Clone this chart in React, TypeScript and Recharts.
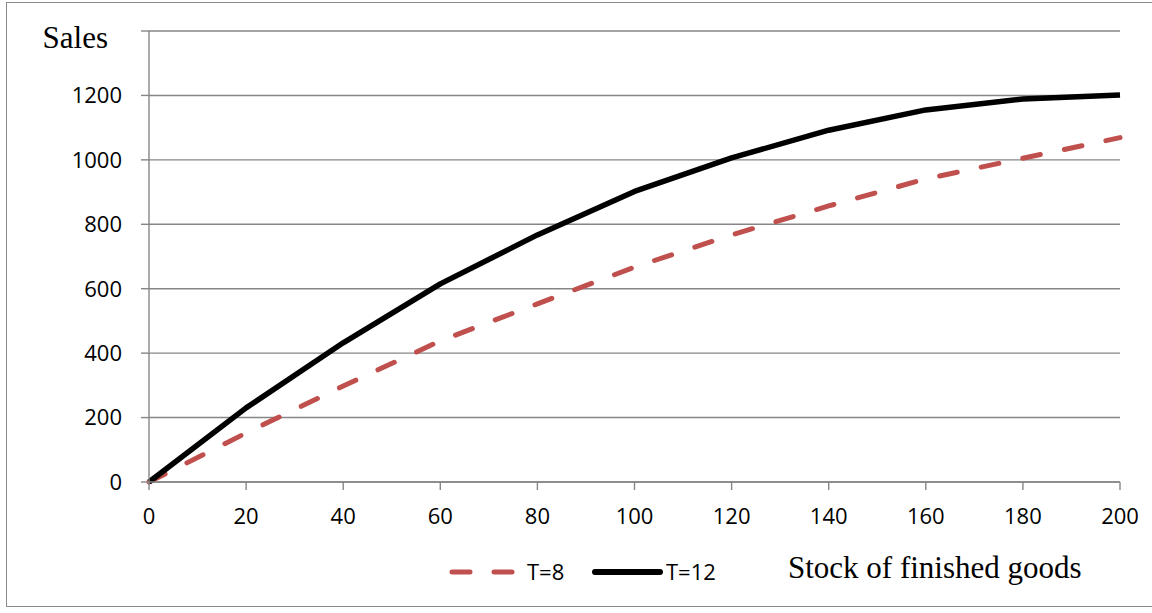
import React from "react";
import { LineChart, Line, XAxis, YAxis, CartesianGrid, Legend } from "recharts";

const stockLevels = [0, 20, 40, 60, 80, 100, 120, 140, 160, 180, 200];
const salesT8 = [0, 152, 298, 438, 553, 667, 767, 857, 941, 1005, 1069];
const salesT12 = [0, 230, 432, 615, 767, 902, 1006, 1092, 1155, 1189, 1201];
const yTicks = [0, 200, 400, 600, 800, 1000, 1200, 1400];
const xTicks = [0, 20, 40, 60, 80, 100, 120, 140, 160, 180, 200];
const seriesNames = ["T=8", "T=12"];
const xAxisTitle = "Stock of finished goods";
const yAxisTitle = "Sales";

const data = stockLevels.map((s, i) => ({
  stock: s,
  t8: salesT8[i],
  t12: salesT12[i],
}));

const GRID = "#868686";
const RED = "#C0504D";
const SANS = "'Open Sans', 'Noto Sans', sans-serif";
const SERIF = "'Liberation Serif', 'DejaVu Serif', serif";

const YTick = (props: any) => {
  const { x, y, payload } = props;
  if (payload.value === 1400) {
    return (
      <text x={x - 14} y={y} dy={17} textAnchor="end" fontFamily={SERIF} fontSize={31} fill="#000">
        {yAxisTitle}
      </text>
    );
  }
  return (
    <text x={x} y={y} dy="0.355em" textAnchor="end" fontFamily={SANS} fontSize={22} fill="#000">
      {payload.value}
    </text>
  );
};

const XTick = (props: any) => {
  const { x, y, payload } = props;
  return (
    <text x={x} y={y} dy="0.71em" textAnchor="middle" fontFamily={SANS} fontSize={22} fill="#000">
      {payload.value}
    </text>
  );
};

const LegendContent = (props: any) => {
  const payload = [...(props.payload || [])].sort(
    (a: any, b: any) => seriesNames.indexOf(a.value) - seriesNames.indexOf(b.value)
  );
  const layout = [
    { x1: 452, x2: 513, tx: 527 },
    { x1: 595, x2: 660, tx: 666 },
  ];
  return (
    <svg width={1152} height={45} style={{ display: "block" }}>
      {payload.map((p: any, i: number) => {
        const l = layout[i] || layout[0];
        const dashed = p.payload && p.payload.strokeDasharray;
        return (
          <g key={i}>
            <line
              x1={l.x1}
              x2={l.x2}
              y1={22}
              y2={22}
              stroke={p.color}
              strokeWidth={dashed ? 5 : 6}
              strokeLinecap="round"
              strokeDasharray={dashed ? "18 24" : undefined}
            />
            <text x={l.tx} y={22} dy="0.355em" fontFamily={SANS} fontSize={22} fill="#000">
              {p.value}
            </text>
          </g>
        );
      })}
      <text x={788} y={28} fontFamily={SERIF} fontSize={31} fill="#000">
        {xAxisTitle}
      </text>
    </svg>
  );
};

export default function App() {
  return (
    <div
      style={{
        position: "fixed",
        left: 0,
        top: 0,
        width: 1152,
        height: 613,
        overflow: "hidden",
        background: "#fff",
      }}
    >
      <div
        style={{
          position: "absolute",
          left: 6,
          top: 2,
          width: 1170,
          height: 605,
          border: "1.5px solid #8a8a8a",
          boxSizing: "border-box",
        }}
      />
      <div style={{ position: "absolute", left: 0, top: 0 }}>
        <LineChart
          width={1152}
          height={613}
          data={data}
          margin={{ top: 31, right: 32, left: 0, bottom: 91 }}
        >
          <CartesianGrid vertical={false} stroke={GRID} strokeWidth={1.4} />
          <XAxis
            dataKey="stock"
            type="number"
            domain={[0, 200]}
            ticks={xTicks}
            height={40}
            tickSize={8}
            tickMargin={18}
            stroke={GRID}
            axisLine={{ stroke: GRID, strokeWidth: 1.4 }}
            tickLine={{ stroke: GRID, strokeWidth: 1.4 }}
            tick={<XTick />}
            interval={0}
          />
          <YAxis
            type="number"
            domain={[0, 1400]}
            ticks={yTicks}
            width={149}
            tickSize={8}
            tickMargin={19}
            axisLine={{ stroke: GRID, strokeWidth: 1.4 }}
            tickLine={{ stroke: GRID, strokeWidth: 1.4 }}
            tick={<YTick />}
            interval={0}
          />
          <Line
            type="linear"
            dataKey="t8"
            name={seriesNames[0]}
            stroke={RED}
            strokeWidth={5}
            strokeDasharray="18 24.5"
            strokeLinecap="round"
            dot={false}
            activeDot={false}
            isAnimationActive={false}
          />
          <Line
            type="linear"
            dataKey="t12"
            name={seriesNames[1]}
            stroke="#000"
            strokeWidth={5.5}
            strokeLinejoin="round"
            dot={false}
            activeDot={false}
            isAnimationActive={false}
          />
          <Legend
            layout="horizontal"
            verticalAlign="middle"
            align="center"
            wrapperStyle={{ position: "absolute", top: 550, left: 0, width: 1152, height: 45 }}
            content={<LegendContent />}
          />
        </LineChart>
      </div>
    </div>
  );
}
